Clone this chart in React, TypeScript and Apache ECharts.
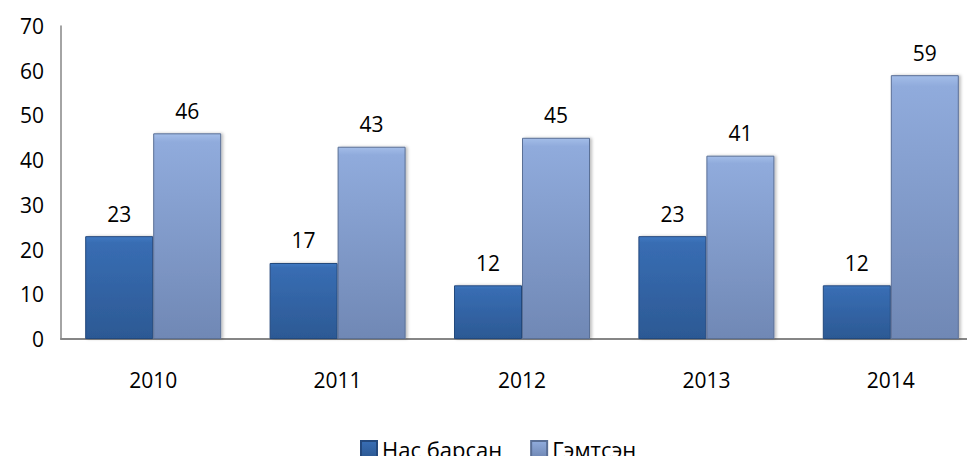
import React, { useEffect, useRef } from "react";
import * as echarts from "echarts";

const categories = ["2010", "2011", "2012", "2013", "2014"];
const deadValues = [23, 17, 12, 23, 12];
const injuredValues = [46, 43, 45, 41, 59];
const seriesNames = ["Нас барсан", "Гэмтсэн"];
const yTicks = { min: 0, max: 70, interval: 10 };

const FONT = "'Open Sans', 'Noto Sans', sans-serif";

export default function App() {
  const ref = useRef<HTMLDivElement>(null);
  useEffect(() => {
    if (!ref.current) return;
    const chart = echarts.init(ref.current, undefined, { renderer: "svg" });
    const darkGrad = new echarts.graphic.LinearGradient(0, 0, 0, 1, [
      { offset: 0, color: "#4079c2" },
      { offset: 0.06, color: "#386db3" },
      { offset: 1, color: "#2c5994" },
    ]);
    const lightGrad = new echarts.graphic.LinearGradient(0, 0, 0, 1, [
      { offset: 0, color: "#a3bde8" },
      { offset: 0.04, color: "#90abdc" },
      { offset: 1, color: "#7088b5" },
    ]);
    const labelStyle = {
      show: true,
      position: "top" as const,
      distance: 12,
      color: "#000",
      fontFamily: FONT,
      fontSize: 21,
    };
    chart.setOption({
      animation: false,
      textStyle: { fontFamily: FONT },
      grid: {
        left: 61,
        width: 922,
        top: 26,
        bottom: 125,
        containLabel: false,
        outerBoundsMode: "none",
      },
      legend: {
        top: 438,
        left: 360,
        padding: 0,
        itemWidth: 16,
        itemHeight: 16,
        itemGap: 28,
        icon: "rect",
        textStyle: { fontFamily: FONT, fontSize: 22, color: "#000" },
        data: seriesNames,
      },
      xAxis: {
        type: "category",
        data: categories,
        axisLine: { lineStyle: { color: "#868686", width: 2 } },
        axisTick: { show: false },
        axisLabel: { color: "#000", fontSize: 21, fontFamily: FONT, margin: 30 },
      },
      yAxis: {
        type: "value",
        min: yTicks.min,
        max: yTicks.max,
        interval: yTicks.interval,
        axisLine: { show: true, lineStyle: { color: "#868686", width: 1.5 } },
        axisTick: { show: false },
        splitLine: { show: false },
        axisLabel: { color: "#000", fontSize: 21, fontFamily: FONT, margin: 17 },
      },
      series: [
        {
          name: seriesNames[0],
          type: "bar",
          data: deadValues,
          barWidth: 68,
          barGap: "0%",
          itemStyle: {
            color: darkGrad,
            borderColor: "#24497d",
            borderWidth: 1,
            shadowColor: "rgba(0,0,0,0.25)",
            shadowOffsetX: 2,
            shadowBlur: 3,
          },
          label: labelStyle,
        },
        {
          name: seriesNames[1],
          type: "bar",
          data: injuredValues,
          barWidth: 68,
          barGap: "0%",
          itemStyle: {
            color: lightGrad,
            borderColor: "#5a6f96",
            borderWidth: 1,
            shadowColor: "rgba(0,0,0,0.25)",
            shadowOffsetX: 2,
            shadowBlur: 3,
          },
          label: labelStyle,
        },
      ],
    });
    return () => chart.dispose();
  }, []);
  return <div ref={ref} style={{ width: 975, height: 464, margin: -8 }} />;
}
